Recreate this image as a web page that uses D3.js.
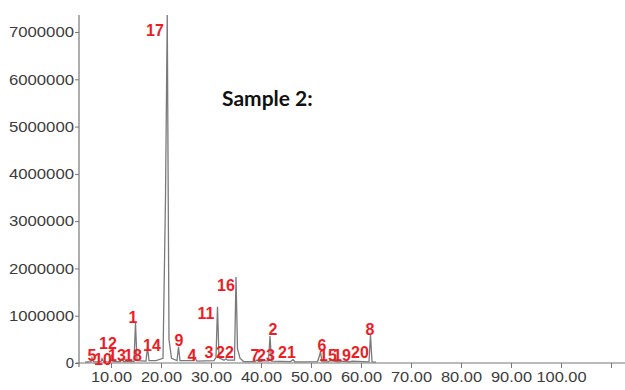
<!DOCTYPE html>
<html><head><meta charset="utf-8">
<script src="https://cdn.jsdelivr.net/npm/d3@7"></script>
<style>body{margin:0;background:#fff}svg{display:block}</style>
</head><body><svg id="c" width="625" height="390"></svg>
<script>
// Chromatogram trace (retention time in min, abundance)
const traceTime = [4.8,6.0,6.2,6.5,8.0,8.2,8.5,9.9,10.1,10.4,11.9,12.2,12.5,14.6,14.9,15.2,17.0,17.3,17.6,19.0,20.4,20.9,21.25,21.6,22.1,23.2,23.5,23.8,26.4,26.8,27.2,30.6,31.0,31.3,31.6,32.6,33.0,33.3,34.7,35.0,35.3,35.8,36.5,38.8,39.2,39.6,40.2,40.6,41.5,41.8,42.1,45.9,46.4,46.8,51.3,51.6,51.9,52.2,53.4,53.8,55.6,56.0,57.8,58.2,61.6,61.9,62.2,63.0];
const traceValue = [20000,30000,110000,25000,30000,90000,25000,30000,180000,30000,30000,90000,30000,30000,850000,50000,40000,340000,50000,50000,100000,3500000,7360000,500000,100000,50000,340000,50000,50000,100000,40000,50000,120000,1190000,110000,60000,90000,60000,60000,1820000,300000,100000,30000,30000,60000,30000,40000,50000,40000,570000,40000,30000,70000,25000,30000,120000,240000,30000,25000,50000,25000,40000,25000,40000,25000,590000,25000,20000];

// Peak labels and their anchor (time, abundance)
const peakLabels = ["17","1","12","5","10","13","18","14","9","4","11","3","22","16","7","23","2","21","6","15","19","20","8"];
const labelTime  = [18.8,14.4,9.4,6.2,8.4,11.2,14.4,18.2,23.6,26.2,29.0,29.6,32.8,33.0,38.8,41.0,42.4,45.2,52.2,53.4,56.2,59.8,61.8];
const labelValue = [7040000,970000,420000,170000,80000,170000,170000,370000,470000,170000,1050000,220000,220000,1640000,170000,170000,720000,230000,370000,170000,170000,230000,720000];

const yTicks = [0,1000000,2000000,3000000,4000000,5000000,6000000,7000000];
const xTicks = [10,20,30,40,50,60,70,80,90,100,110];
const xTickLabels = ["10.00","20.00","30.00","40.00","50.00","60.00","70.00","80.00","90.00","100.00",""];
const title = "Sample 2:";

const svg = d3.select("#c");
const x = d3.scaleLinear().domain([3.6, 112.8]).range([79, 625]);
const y = d3.scaleLinear().domain([0, 7360000]).range([363, 15]);

// trace
const pts = traceTime.map((t,i)=>[t, traceValue[i]]);
svg.append("path").datum(pts)
  .attr("fill","none").attr("stroke","#7a7a7a").attr("stroke-width",1.3)
  .attr("d", d3.line().x(d=>x(d[0])).y(d=>y(d[1])));

// y axis
const minorY = d3.range(0, 7300000, 200000);
const gy = svg.append("g").attr("transform","translate(79,0)");
gy.call(d3.axisLeft(y).tickValues(minorY).tickSize(2).tickFormat(""));
gy.call(d3.axisLeft(y).tickValues(yTicks).tickSize(4).tickFormat(d3.format("d")));
gy.select(".domain").remove();
gy.append("line").attr("x1",0).attr("x2",0).attr("y1",15).attr("y2",367).attr("stroke","#777").attr("stroke-width",1.2);
gy.selectAll(".tick line").attr("stroke","#777");
gy.selectAll(".tick text").attr("fill","#3c3c3c").style("font-family","Liberation Sans, Arial, sans-serif")
  .style("font-size","15px").attr("x",-5)
  .each(function(){ const s=this.textContent; if(s.length>1){ d3.select(this).attr("textLength", s.length*9.3).attr("lengthAdjust","spacingAndGlyphs"); } });

// x axis
const minorX = d3.range(4, 113, 2);
const gx = svg.append("g").attr("transform","translate(0,363)");
gx.call(d3.axisBottom(x).tickValues(minorX).tickSize(3).tickFormat(""));
gx.call(d3.axisBottom(x).tickValues(xTicks).tickSize(5).tickFormat((d,i)=>xTickLabels[i]));
gx.selectAll(".domain").remove();
gx.append("line").attr("x1",76).attr("x2",625).attr("y1",0).attr("y2",0).attr("stroke","#777").attr("stroke-width",1.2);
gx.selectAll(".tick line").attr("stroke","#777");
gx.selectAll(".tick text").attr("fill","#3c3c3c").style("font-family","Liberation Sans, Arial, sans-serif")
  .style("font-size","14px").attr("y",9).attr("dy","0.71em")
  .each(function(){ const s=this.textContent; if(s.length>0){ const w=(s.length-1)*0.556*16.4+0.278*16.4; d3.select(this).attr("textLength", w).attr("lengthAdjust","spacingAndGlyphs"); } });

// labels
svg.append("g").selectAll("text").data(peakLabels).join("text")
  .attr("x",(d,i)=>x(labelTime[i])).attr("y",(d,i)=>y(labelValue[i]))
  .attr("text-anchor","middle").attr("dy","0.35em")
  .attr("fill","#ee1c25").style("font-family","Liberation Sans, Arial, sans-serif")
  .style("font-weight","bold").style("font-size","16px")
  .text(d=>d);

svg.append("text").attr("x",222).attr("y",106)
  .style("font-family","Lato, 'Open Sans', sans-serif").style("font-weight","bold").style("font-size","21px")
  .attr("fill","#111").text(title);
</script></body></html>
